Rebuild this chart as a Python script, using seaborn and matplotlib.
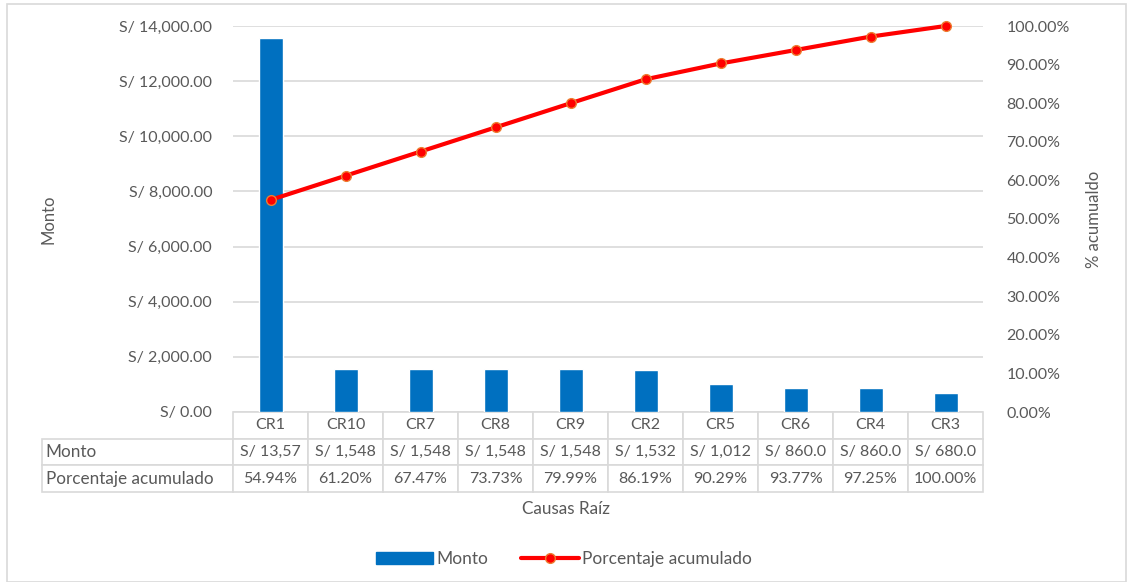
import matplotlib
matplotlib.use("Agg")
import matplotlib.pyplot as plt
import seaborn as sns
import pandas as pd
from matplotlib.lines import Line2D
from matplotlib.patches import Patch, Rectangle
from matplotlib.ticker import FuncFormatter, MultipleLocator

# datos del diagrama de Pareto
causas = ['CR1', 'CR10', 'CR7', 'CR8', 'CR9', 'CR2', 'CR5', 'CR6', 'CR4', 'CR3']
monto = [13574, 1548, 1548, 1548, 1548, 1532, 1012, 860, 860, 680]
porcentaje = [54.94, 61.20, 67.47, 73.73, 79.99, 86.19, 90.29, 93.77, 97.25, 100.00]
monto_txt = ['S/ 13,57', 'S/ 1,548', 'S/ 1,548', 'S/ 1,548', 'S/ 1,548',
             'S/ 1,532', 'S/ 1,012', 'S/ 860.0', 'S/ 860.0', 'S/ 680.0']

df = pd.DataFrame({'causa': causas, 'monto': monto, 'pct': porcentaje})

sns.set_style('white')
plt.rcParams['font.family'] = ['Lato', 'DejaVu Sans']
gris = '#595959'
azul = '#0070C0'

W, H = 1132, 582
fig = plt.figure(figsize=(W / 100, H / 100), dpi=100)
ax = fig.add_axes([233 / W, 1 - 412 / H, 750 / W, 386 / H])

sns.barplot(data=df, x='causa', y='monto', color=azul, width=0.32,
            saturation=1, ax=ax, zorder=3)
ax.set_ylim(0, 14000)
ax.set_xlim(-0.5, 9.5)
ax.yaxis.set_major_locator(MultipleLocator(2000))
ax.yaxis.set_major_formatter(FuncFormatter(lambda v, p: f'S/ {v:,.2f}'))
ax.grid(axis='y', color='#d9d9d9', lw=1.2, zorder=0)
ax.set_axisbelow(True)
ax.tick_params(axis='y', length=0, pad=15, labelsize=11.5, labelcolor=gris)
ax.set_xticks([])
ax.set_xlabel('')
ax.set_ylabel('Monto', fontsize=12, color=gris, labelpad=0)
ax.yaxis.set_label_coords(-176 / 750, 0.5)
for s in ax.spines.values():
    s.set_visible(False)

ax2 = ax.twinx()
sns.lineplot(x=range(len(causas)), y=porcentaje, ax=ax2, color='#FF0000', lw=3,
             marker='o', markersize=7, markerfacecolor='#FF0000',
             markeredgecolor='#ED7D31', markeredgewidth=1, zorder=4, clip_on=False)
ax2.set_ylim(0, 100)
ax2.yaxis.set_major_locator(MultipleLocator(10))
ax2.yaxis.set_major_formatter(FuncFormatter(lambda v, p: f'{v:.2f}%'))
ax2.tick_params(axis='y', length=0, pad=17, labelsize=11.5, labelcolor=gris)
ax2.set_ylabel('% acumualdo', fontsize=12, color=gris)
ax2.yaxis.set_label_coords(1 + 103 / 750, 0.5)
for s in ax2.spines.values():
    s.set_visible(False)

# tabla de datos bajo el eje
pct_txt = [f'{p:.2f}%' for p in porcentaje]
tabla = ax.table(cellText=[monto_txt, pct_txt], rowLabels=['Monto', 'Porcentaje acumulado'],
                 colLabels=causas, colWidths=[0.1] * 10,
                 cellLoc='center', rowLoc='left',
                 bbox=[0, -80 / 386, 1, 80 / 386])
tabla._autoColumns = []
tabla.auto_set_font_size(False)
for (r, c), cell in tabla.get_celld().items():
    cell.set_edgecolor('#d9d9d9')
    cell.set_linewidth(1.2)
    cell.get_text().set_color(gris)
    cell.get_text().set_fontsize(11.5)
    if c == -1:
        cell.set_width(191 / 750)
        cell.PAD = 0.02
        cell.get_text().set_fontsize(12.3)

fig.text(566 / W, 1 - 509 / H, 'Causas Raíz', ha='center', va='center',
         fontsize=12.3, color=gris)

handles = [Patch(color=azul, label='Monto'),
           Line2D([], [], color='#FF0000', lw=3, marker='o', markersize=7,
                  markerfacecolor='#FF0000', markeredgecolor='#ED7D31',
                  label='Porcentaje acumulado')]
fig.legend(handles=handles, loc='center', bbox_to_anchor=(564 / W, 1 - 559 / H),
           ncol=2, frameon=False, fontsize=12.5, labelcolor=gris,
           handlelength=3.3, handletextpad=0.2, columnspacing=1.9)

fig.patches.append(Rectangle((7 / W, 0), 1119 / W, 1 - 4 / H, transform=fig.transFigure,
                             fill=False, edgecolor='#d9d9d9', lw=1.2))

fig.savefig('out.png', dpi=100)
